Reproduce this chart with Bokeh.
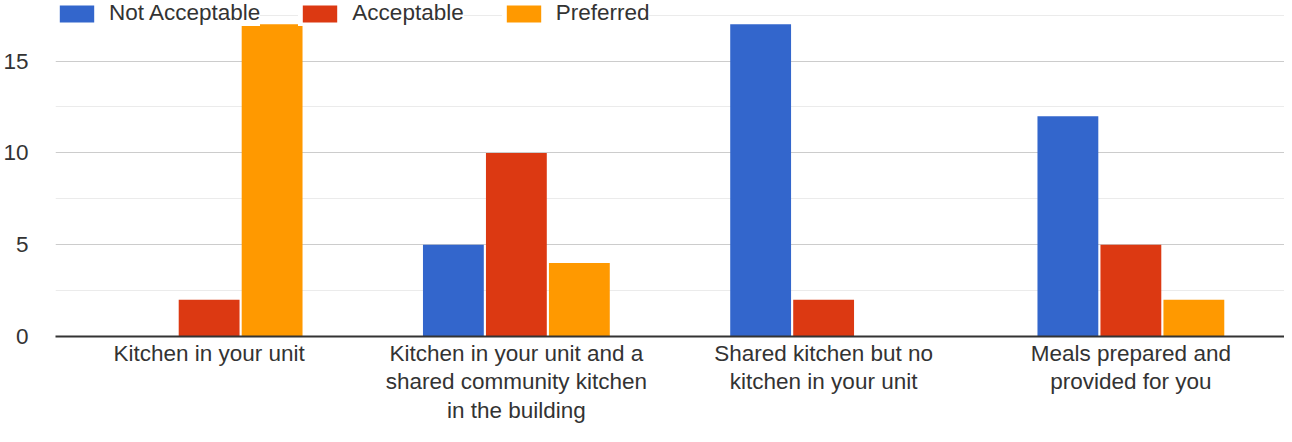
from bokeh.plotting import figure
from bokeh.models import ColumnDataSource, FactorRange, Range1d, FixedTicker, Legend, LegendItem
from bokeh.transform import dodge
from bokeh.embed import file_html
from bokeh.resources import INLINE

categories = [
    "Kitchen in your unit",
    "Kitchen in your unit and a\nshared community kitchen\nin the building",
    "Shared kitchen but no\nkitchen in your unit",
    "Meals prepared and\nprovided for you",
]
series_names = ["Not Acceptable", "Acceptable", "Preferred"]
not_acceptable = [0, 5, 17, 12]
acceptable = [2, 10, 2, 5]
preferred = [17, 4, 0, 2]
y_ticks = [0, 5, 10, 15]
y_minor_ticks = [2.5, 7.5, 12.5, 17.5]

colors = ["#3366cc", "#dc3912", "#ff9900"]
FONT = "Liberation Sans"
FSIZE = "22.5px"
TEXT = "#333333"

src = ColumnDataSource(dict(cat=categories, s0=not_acceptable, s1=acceptable, s2=preferred))

p = figure(width=1284, height=426,
           x_range=FactorRange(*categories, range_padding=0),
           y_range=Range1d(0, 18.3),
           output_backend="svg", toolbar_location=None,
           min_border_left=50, min_border_right=0, min_border_top=0, min_border_bottom=80)

offsets = [-0.205, 0.0, 0.205]
renderers = []
for i, col in enumerate(["s0", "s1", "s2"]):
    r = p.vbar(x=dodge("cat", offsets[i], range=p.x_range), top=col, width=0.198,
               source=src, fill_color=colors[i], line_color=None)
    renderers.append(r)

p.outline_line_color = None
p.xgrid.visible = False
p.yaxis.ticker = FixedTicker(ticks=y_ticks, minor_ticks=y_minor_ticks)
p.ygrid.grid_line_color = "#cccccc"
p.ygrid.minor_grid_line_color = "#ebebeb"

p.yaxis.axis_line_color = None
p.yaxis.major_tick_line_color = None
p.yaxis.minor_tick_line_color = None
p.yaxis.major_tick_out = 0
p.yaxis.major_tick_in = 0
p.yaxis.major_label_standoff = 23
p.yaxis.major_label_text_font = FONT
p.yaxis.major_label_text_font_size = FSIZE
p.yaxis.major_label_text_color = TEXT

p.xaxis.axis_line_color = "#333333"
p.xaxis.axis_line_width = 2
p.xaxis.major_tick_line_color = None
p.xaxis.minor_tick_line_color = None
p.xaxis.major_tick_out = 0
p.xaxis.major_tick_in = 0
p.xaxis.major_label_standoff = 4
p.xaxis.major_label_text_font = FONT
p.xaxis.major_label_text_font_size = FSIZE
p.xaxis.major_label_text_color = TEXT
p.xaxis.major_label_text_line_height = 1.15

legend = Legend(items=[LegendItem(label=n, renderers=[r]) for n, r in zip(series_names, renderers)],
                location="top_left", orientation="horizontal",
                glyph_width=43, glyph_height=21, label_standoff=11, spacing=38,
                padding=1, margin=0, border_line_color=None,
                background_fill_alpha=0,
                item_background_policy="every", item_background_fill_color="white",
                item_background_fill_alpha=1.0,
                label_text_font=FONT, label_text_font_size=FSIZE, label_text_color=TEXT)
p.add_layout(legend)

open("out.html", "w").write(file_html(p, INLINE))
